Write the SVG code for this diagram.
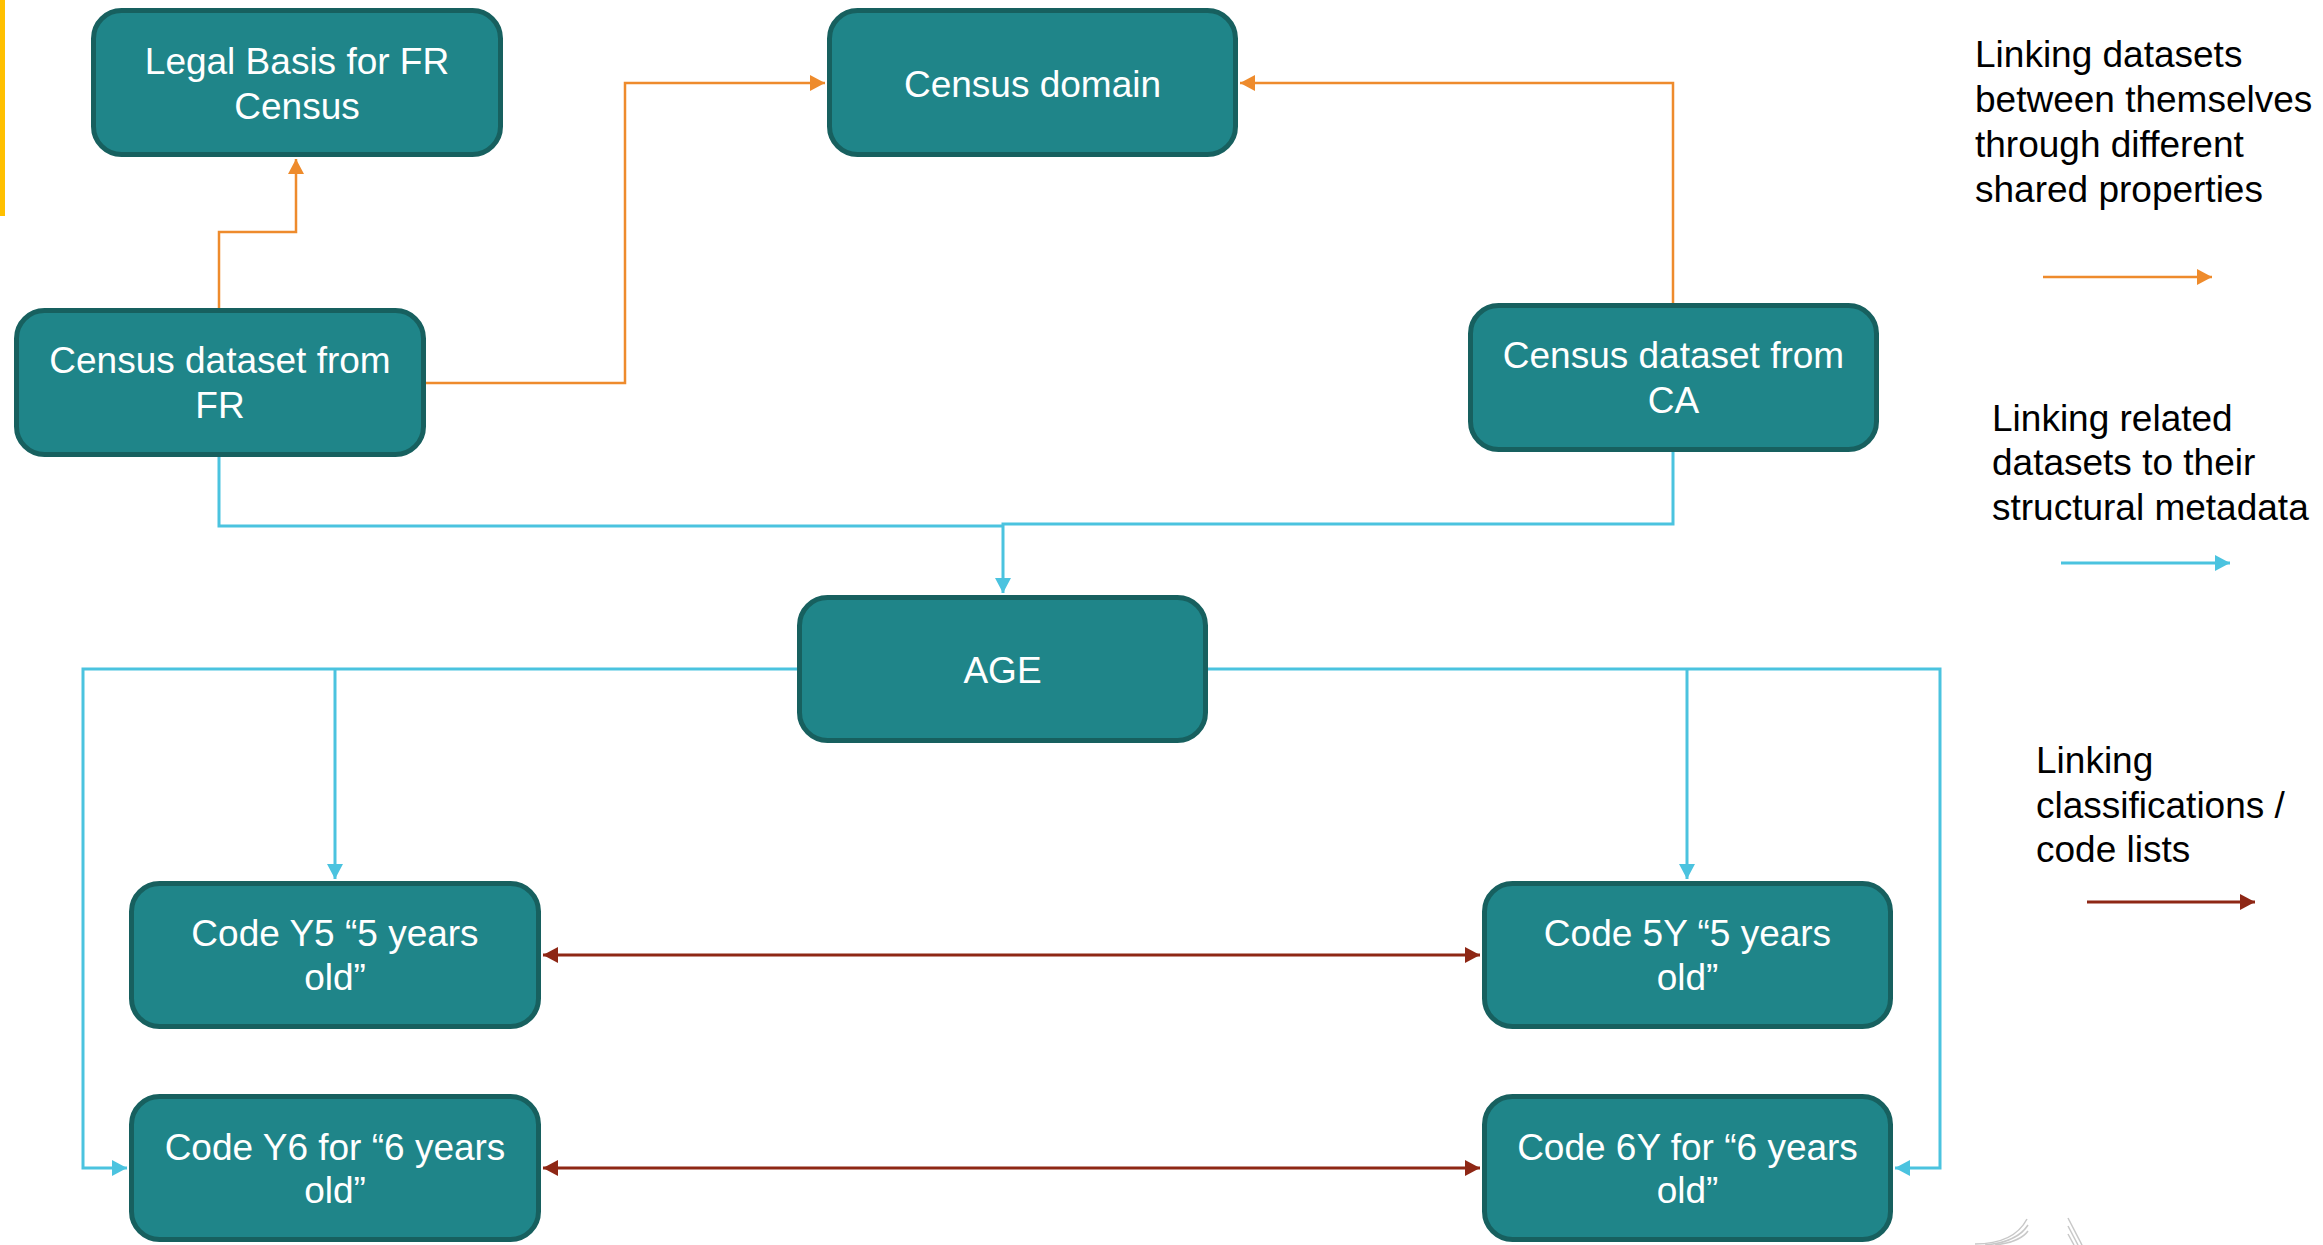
<svg xmlns="http://www.w3.org/2000/svg" width="2323" height="1245" viewBox="0 0 2323 1245">
<defs>
<style>
.box{fill:#1F8589;stroke:#17605F;stroke-width:5}
.nt{font-family:"Liberation Sans",Arial,sans-serif;font-size:37px;fill:#FFFFFF;text-anchor:middle}
.lt{font-family:"Liberation Sans",Arial,sans-serif;font-size:37px;fill:#000000}
.or{fill:none;stroke:#EE8B2C;stroke-width:2.5}
.bl{fill:none;stroke:#4BC3DF;stroke-width:3}
.rd{fill:none;stroke:#8E2715;stroke-width:3}
</style>
<marker id="ao" markerUnits="userSpaceOnUse" markerWidth="16" markerHeight="16" refX="15" refY="8" orient="auto"><path d="M0,0 L15,8 L0,16 z" fill="#EE8B2C"/></marker>
<marker id="ab" markerUnits="userSpaceOnUse" markerWidth="16" markerHeight="16" refX="15" refY="8" orient="auto"><path d="M0,0 L15,8 L0,16 z" fill="#4BC3DF"/></marker>
<marker id="ar" markerUnits="userSpaceOnUse" markerWidth="16" markerHeight="16" refX="15" refY="8" orient="auto-start-reverse"><path d="M0,0 L15,8 L0,16 z" fill="#8E2715"/></marker>
</defs>
<rect x="0" y="0" width="2323" height="1245" fill="#FFFFFF"/>
<rect x="0" y="0" width="5" height="216" fill="#FFC000"/>

<g id="connectors">
<path class="or" d="M219,308 L219,232 L296,232 L296,159" marker-end="url(#ao)"/>
<path class="or" d="M426,383 L625,383 L625,83 L825,83" marker-end="url(#ao)"/>
<path class="or" d="M1673,303 L1673,83 L1240,83" marker-end="url(#ao)"/>
<path class="bl" d="M219,457 L219,526 L1003,526"/>
<path class="bl" d="M1673,452 L1673,524 L1003,524 L1003,593" marker-end="url(#ab)"/>
<path class="bl" d="M797,669 L83,669 L83,1168 L127,1168" marker-end="url(#ab)"/>
<path class="bl" d="M335,669 L335,879" marker-end="url(#ab)"/>
<path class="bl" d="M1208,669 L1940,669 L1940,1168 L1895,1168" marker-end="url(#ab)"/>
<path class="bl" d="M1687,669 L1687,879" marker-end="url(#ab)"/>
<path class="rd" d="M543,955 L1480,955" marker-start="url(#ar)" marker-end="url(#ar)"/>
<path class="rd" d="M543,1168 L1480,1168" marker-start="url(#ar)" marker-end="url(#ar)"/>
</g>

<g id="legal-basis">
<rect class="box" x="93.5" y="10.5" width="407" height="144" rx="28"/>
<text class="nt" x="297" y="74">Legal Basis for FR</text>
<text class="nt" x="297" y="119">Census</text>
</g>
<g id="census-domain">
<rect class="box" x="829.5" y="10.5" width="406" height="144" rx="28"/>
<text class="nt" x="1032.5" y="97">Census domain</text>
</g>
<g id="dataset-fr">
<rect class="box" x="16.5" y="310.5" width="407" height="144" rx="28"/>
<text class="nt" x="220" y="373">Census dataset from</text>
<text class="nt" x="220" y="418">FR</text>
</g>
<g id="dataset-ca">
<rect class="box" x="1470.5" y="305.5" width="406" height="144" rx="28"/>
<text class="nt" x="1673.5" y="368">Census dataset from</text>
<text class="nt" x="1673.5" y="413">CA</text>
</g>
<g id="age">
<rect class="box" x="799.5" y="597.5" width="406" height="143" rx="28"/>
<text class="nt" x="1002.5" y="683">AGE</text>
</g>
<g id="code-y5">
<rect class="box" x="131.5" y="883.5" width="407" height="143" rx="28"/>
<text class="nt" x="335" y="946">Code Y5 “5 years</text>
<text class="nt" x="335" y="990">old”</text>
</g>
<g id="code-5y">
<rect class="box" x="1484.5" y="883.5" width="406" height="143" rx="28"/>
<text class="nt" x="1687.5" y="946">Code 5Y “5 years</text>
<text class="nt" x="1687.5" y="990">old”</text>
</g>
<g id="code-y6">
<rect class="box" x="131.5" y="1096.5" width="407" height="143" rx="28"/>
<text class="nt" x="335" y="1160">Code Y6 for “6 years</text>
<text class="nt" x="335" y="1203">old”</text>
</g>
<g id="code-6y">
<rect class="box" x="1484.5" y="1096.5" width="406" height="143" rx="28"/>
<text class="nt" x="1687.5" y="1160">Code 6Y for “6 years</text>
<text class="nt" x="1687.5" y="1203">old”</text>
</g>

<g id="legend">
<text class="lt" x="1975" y="67">Linking datasets</text>
<text class="lt" x="1975" y="112">between themselves</text>
<text class="lt" x="1975" y="157">through different</text>
<text class="lt" x="1975" y="202">shared properties</text>
<path class="or" d="M2043,277 L2212,277" marker-end="url(#ao)"/>
<text class="lt" x="1992" y="431">Linking related</text>
<text class="lt" x="1992" y="475">datasets to their</text>
<text class="lt" x="1992" y="520">structural metadata</text>
<path class="bl" d="M2061,563 L2230,563" marker-end="url(#ab)"/>
<text class="lt" x="2036" y="773">Linking</text>
<text class="lt" x="2036" y="818">classifications /</text>
<text class="lt" x="2036" y="862">code lists</text>
<path class="rd" d="M2087,902 L2255,902" marker-end="url(#ar)"/>
</g>

<g id="logo-fragment" fill="none" stroke="#C8C8C8" stroke-width="1.5">
<path d="M1975,1244 C2000,1244 2018,1236 2027,1219"/>
<path d="M1985,1245 C2008,1243 2021,1236 2028,1225"/>
<path d="M1995,1245 C2012,1243 2023,1238 2028,1231"/>
<path d="M2068,1218 L2082,1245"/>
<path d="M2068,1226 L2078,1245"/>
<path d="M2068,1234 L2074,1245"/>
</g>
</svg>
